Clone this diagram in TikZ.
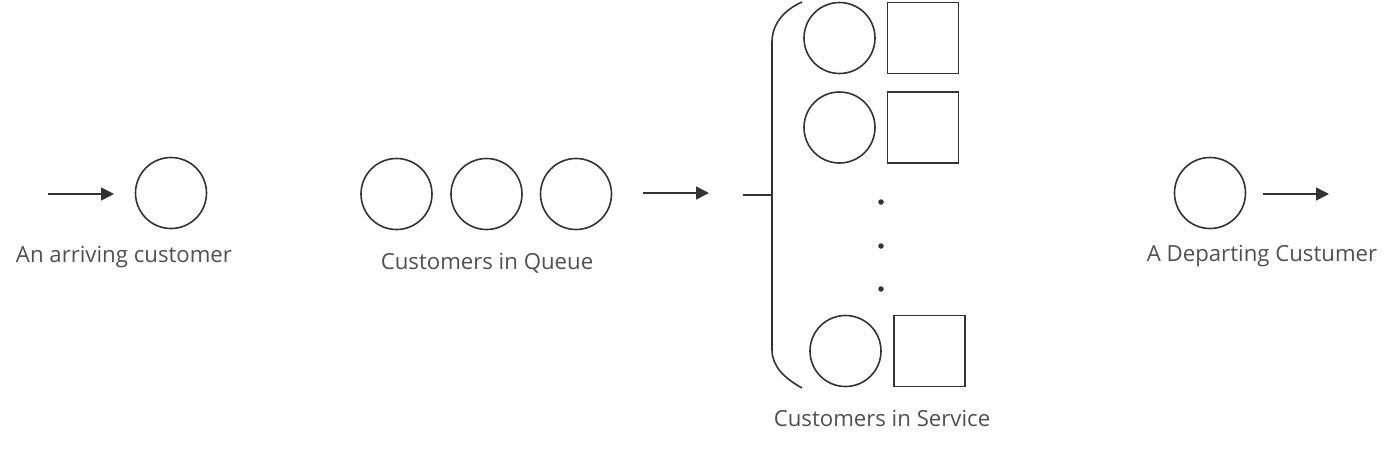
\documentclass[tikz,border=0pt]{standalone}
\usepackage{fontspec}
\setmainfont{Open Sans}
\usetikzlibrary{arrows.meta}
\definecolor{linec}{HTML}{333333}
\definecolor{textc}{HTML}{505050}
\tikzset{
  cust/.style={circle, draw=linec, line width=1.6pt, minimum size=71pt, inner sep=0pt},
  server/.style={rectangle, draw=linec, line width=1.6pt, minimum size=71pt, inner sep=0pt},
  flow/.style={draw=linec, line width=1.6pt, -{Triangle[length=13pt,width=13pt]}},
  lbl/.style={text=textc, font=\fontsize{22.2pt}{24pt}\selectfont, anchor=base, inner sep=0pt},
  brace/.style={draw=linec, line width=1.6pt},
  dot/.style={circle, fill=linec, minimum size=5.5pt, inner sep=0pt}
}
\begin{document}
\begin{tikzpicture}[x=1pt,y=-1pt]
\useasboundingbox (0,0) rectangle (1390,448);
% arriving
\coordinate (a1s) at (48,194);
\coordinate (a1e) at (114,194);
\draw[flow] (a1s) -- (a1e);
\node[cust] (arr) at (171,193) {};
\node[lbl] (arrl) at (124,262) {An arriving customer};
% queue
\node[cust] (q1) at (396.5,194) {};
\node[cust] (q2) at (486.5,194) {};
\node[cust] (q3) at (576,194) {};
\node[lbl] (ql) at (487,269) {Customers in Queue};
\coordinate (a2s) at (643,193);
\coordinate (a2e) at (709,193);
\draw[flow] (a2s) -- (a2e);
% brace
\coordinate (bt) at (743,195);
\coordinate (bm) at (772,195);
\coordinate (btop) at (772,42);
\coordinate (bbot) at (772,350);
\coordinate (btopend) at (802,2);
\coordinate (bbotend) at (802,388);
\draw[brace] (bt) -- (bm);
\draw[brace] (btopend) .. controls (784,10) and (772,24) .. (btop) -- (bbot) .. controls (772,366) and (784,378) .. (bbotend);
% servers
\node[cust] (s1) at (839.5,38) {};
\node[server] (sv1) at (923,38) {};
\node[cust] (s2) at (839.5,127.5) {};
\node[server] (sv2) at (923,127.5) {};
\node[dot] (d1) at (881,202) {};
\node[dot] (d2) at (881,246) {};
\node[dot] (d3) at (881,289) {};
\node[cust] (s3) at (845.5,351) {};
\node[server] (sv3) at (929.5,351) {};
\node[lbl] (sl) at (882,426) {Customers in Service};
% departing
\node[cust] (dep) at (1210,193) {};
\coordinate (a3s) at (1263,194);
\coordinate (a3e) at (1329,194);
\draw[flow] (a3s) -- (a3e);
\node[lbl] (depl) at (1262,261) {A Departing Custumer};
\end{tikzpicture}
\end{document}
